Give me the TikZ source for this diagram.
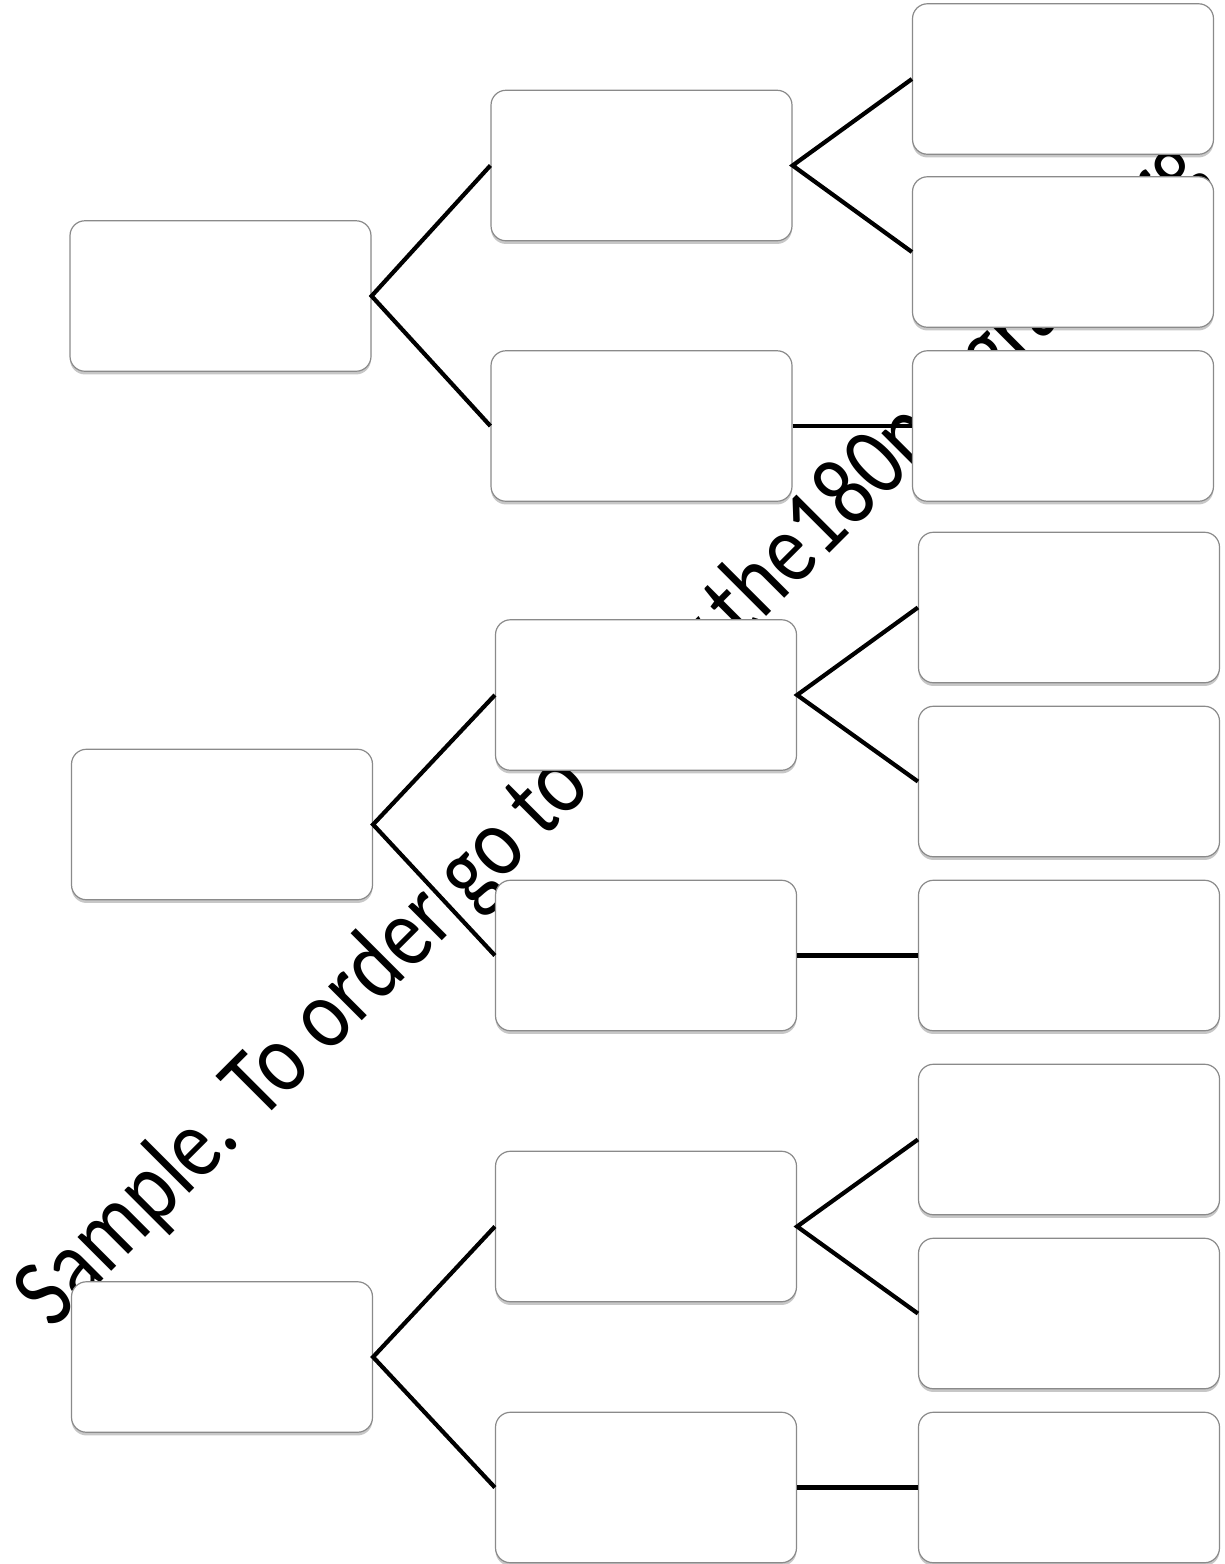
\documentclass[tikz,border=0pt]{standalone}
\usepackage{fontspec}
\usepackage{graphicx}
\newfontfamily\wmfont{Carlito}
\usetikzlibrary{shadows,backgrounds}
\definecolor{boxborder}{HTML}{8A8A8A}
\tikzset{
  box/.style={draw=boxborder, line width=0.6pt, fill=white, rounded corners=7.5pt,
    minimum width=150.5pt, minimum height=75.25pt, inner sep=0pt,
    drop shadow={shadow xshift=0pt, shadow yshift=-1.6pt, fill=black, opacity=0.22}},
  link/.style={draw=black, line width=2.1pt, line join=miter},
}
\begin{document}
\begin{tikzpicture}[x=0.5pt, y=-0.5pt]
\useasboundingbox (0,0) rectangle (1225,1564);
% left column
\node[box] (L1) at (220.5,296) {};
\node[box] (L2) at (222,824.5) {};
\node[box] (L3) at (222,1357) {};
% middle column
\node[box] (M1) at (641.5,165.5) {};
\node[box] (M2) at (641.5,426) {};
\node[box] (M3) at (646,695) {};
\node[box] (M4) at (646,955.5) {};
\node[box] (M5) at (646,1226.5) {};
\node[box] (M6) at (646,1487.5) {};
% right column
\node[box] (R1) at (1063,79) {};
\node[box] (R2) at (1063,252) {};
\node[box] (R3) at (1063,426) {};
\node[box] (R4) at (1069,607.5) {};
\node[box] (R5) at (1069,781.5) {};
\node[box] (R6) at (1069,955.5) {};
\node[box] (R7) at (1069,1139.5) {};
\node[box] (R8) at (1069,1313.5) {};
\node[box] (R9) at (1069,1487.5) {};
% watermark behind the boxes
\begin{pgfonlayer}{background}
\node[rotate=45, anchor=base west, inner sep=0pt] (wm) at (52,1331)
  {\wmfont\fontsize{50pt}{54pt}\selectfont\scalebox{0.83}[1]{Sample. To order go to www.the180program.org}};
\end{pgfonlayer}
% connectors
\draw[link] (M1.west) -- (L1.east) -- (M2.west);
\draw[link] (R1.west) -- (M1.east) -- (R2.west);
\draw[link] (M2.east) -- (R3.west);
\draw[link] (M3.west) -- (L2.east) -- (M4.west);
\draw[link] (R4.west) -- (M3.east) -- (R5.west);
\draw[link] (M4.east) -- (R6.west);
\draw[link] (M5.west) -- (L3.east) -- (M6.west);
\draw[link] (R7.west) -- (M5.east) -- (R8.west);
\draw[link] (M6.east) -- (R9.west);
\end{tikzpicture}
\end{document}
